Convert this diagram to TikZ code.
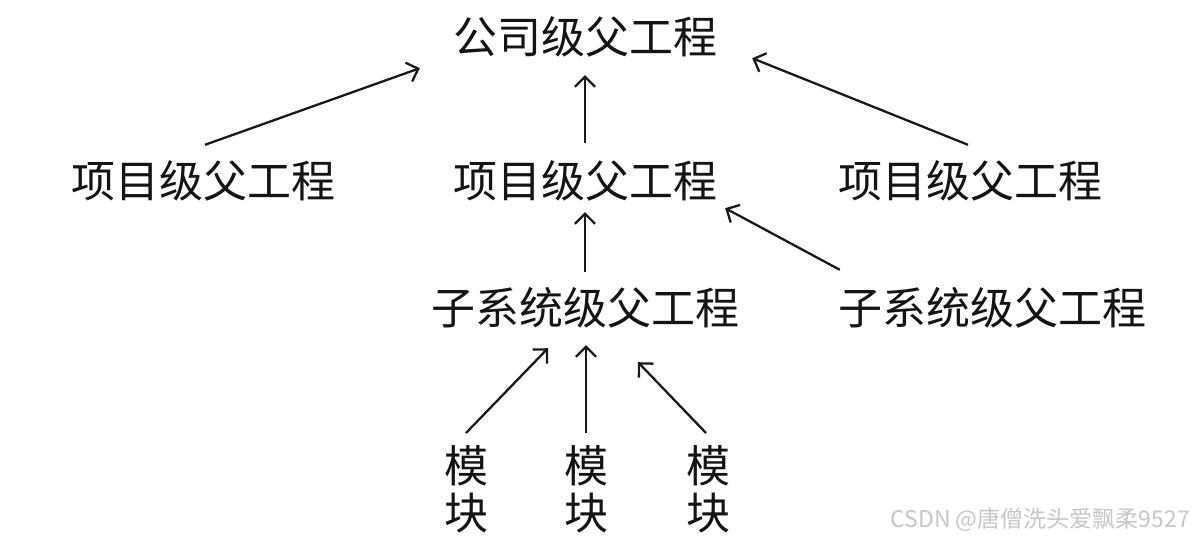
\documentclass[tikz,border=0pt]{standalone}
\usepackage{fontspec}
\newfontfamily\cjk{Noto Sans CJK SC}
\usetikzlibrary{arrows.meta}
\begin{document}
\begin{tikzpicture}[x=1pt,y=-1pt,
  lbl/.style={font=\cjk\fontsize{44}{45}\selectfont, inner sep=0pt, text height=38pt, text depth=6pt, text=black!92},
  modbox/.style={font=\cjk\fontsize{44}{47}\selectfont, inner sep=0pt, align=center, text=black!92},
  arr/.style={-{Straight Barb[length=10pt,width=20pt]}, line width=2.3pt, black!90},
  wm/.style={font=\cjk\fontsize{23}{24}\selectfont, text=black!22, inner sep=0pt}]
\fill[white] (0,0) rectangle (1194,540);
\useasboundingbox (0,0) rectangle (1194,540);
\node[lbl] (top) at (585,38) {公司级父工程};
\node[lbl] (lm) at (203,182) {项目级父工程};
\node[lbl] (mc) at (585,182) {项目级父工程};
\node[lbl] (rm) at (970,182) {项目级父工程};
\node[lbl] (sc) at (585,308) {子系统级父工程};
\node[lbl] (sr) at (992,308) {子系统级父工程};
\node[modbox, anchor=north] (m1) at (466,445) {模\\块};
\node[modbox, anchor=north] (m2) at (586,445) {模\\块};
\node[modbox, anchor=north] (m3) at (708,445) {模\\块};
\node[wm, anchor=east] (wmk) at (1190,520) {CSDN @唐僧洗头爱飘柔9527};
\draw[arr] ([shift={(2,-15)}]lm.north) -- ([shift={(-33,8)}]top.south west);
\draw[arr] ([shift={(0,-17)}]mc.north) -- ([shift={(0,15)}]top.south);
\draw[arr] ([shift={(-2,-15)}]rm.north) -- ([shift={(35,-2)}]top.south east);
\draw[arr] ([shift={(0,-14)}]sc.north) -- ([shift={(0,8)}]mc.south);
\draw[arr] ([shift={(2,-16)}]sr.north west) -- ([shift={(8,4)}]mc.south east);
\draw[arr] ([shift={(0,-12)}]m1.north) -- ([shift={(-37,18)}]sc.south);
\draw[arr] ([shift={(0,-12)}]m2.north) -- ([shift={(1,15)}]sc.south);
\draw[arr] ([shift={(-2,-12)}]m3.north) -- ([shift={(53,32)}]sc.south);
\end{tikzpicture}
\end{document}
